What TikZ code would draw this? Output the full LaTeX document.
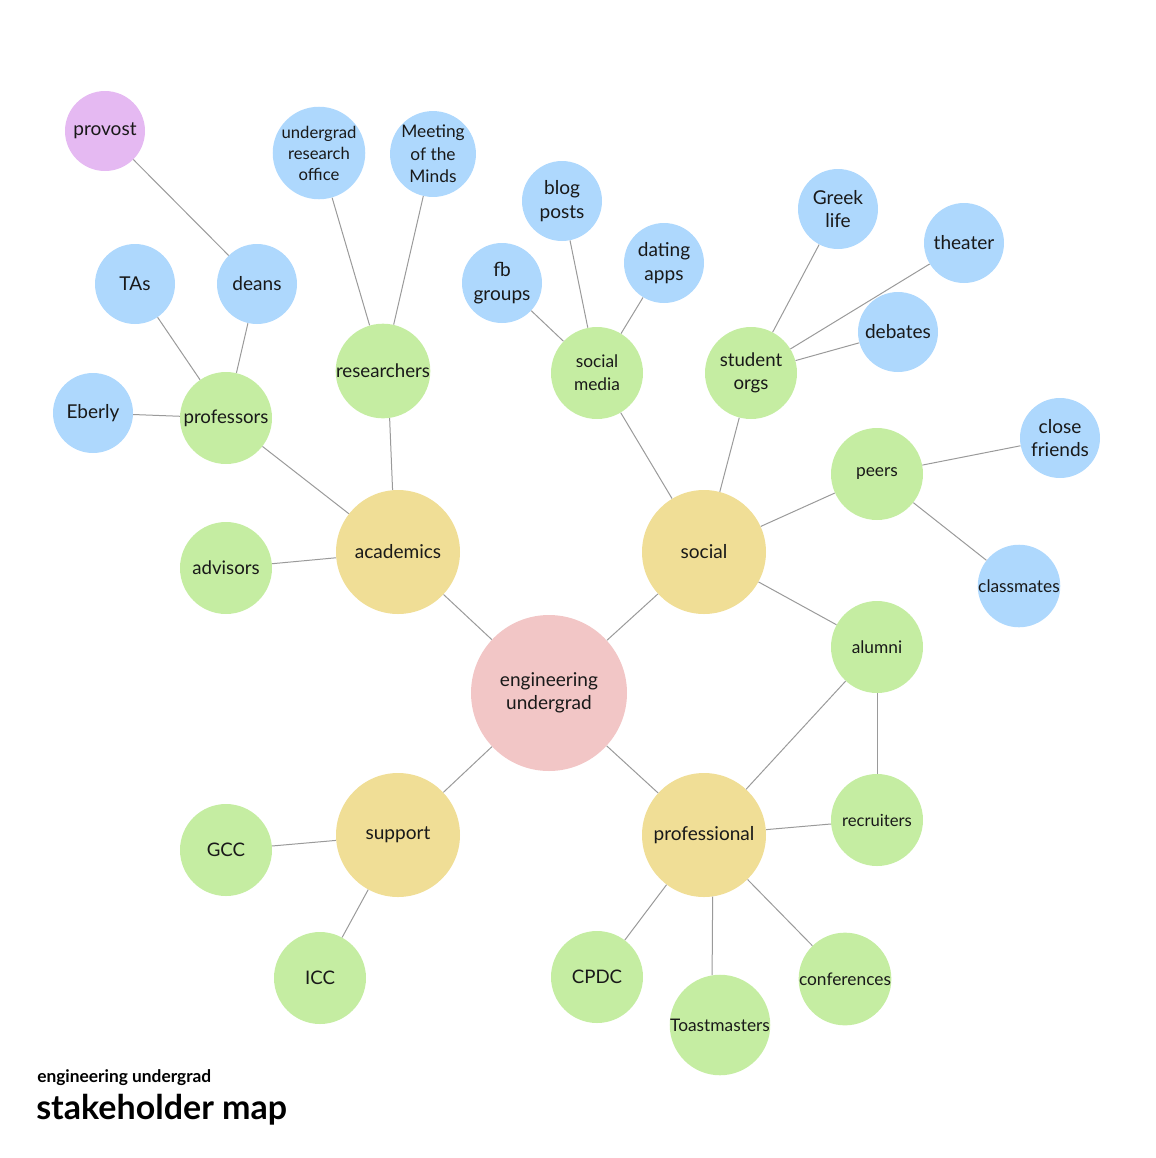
\documentclass[tikz,border=0pt]{standalone}
\usepackage{fontspec}
\setmainfont{Lato}
\definecolor{cyel}{HTML}{F0DE96}
\definecolor{cgrn}{HTML}{C5EDA2}
\definecolor{cblu}{HTML}{AED8FD}
\definecolor{cpnk}{HTML}{F2C6C6}
\definecolor{cpur}{HTML}{E5B9F2}
\definecolor{cline}{HTML}{9A9A9A}
\tikzset{
  bub/.style={circle,inner sep=0pt,align=center,text=black!90,font=\fontsize{14.3}{17.5}\selectfont},
  hub/.style={bub,fill=cpnk,minimum size=117pt},
  cat/.style={bub,fill=cyel,minimum size=93pt},
  grp/.style={bub,fill=cgrn,minimum size=69pt,font=\fontsize{14}{17}\selectfont},
  leaf/.style={bub,fill=cblu,minimum size=60pt},
  top/.style={bub,fill=cpur,minimum size=60pt},
  small/.style={font=\fontsize{13}{17}\selectfont},
  link/.style={draw=cline,line width=0.75pt},
}
\begin{document}
\begin{tikzpicture}[x=0.75pt,y=-0.75pt]
\useasboundingbox (0,0) rectangle (1156,1158);
% hub
\node[hub] (eu) at (549,693) {engineering\\undergrad};
% categories
\node[cat] (aca) at (398,552) {academics};
\node[cat] (soc) at (704,552) {social};
\node[cat] (sup) at (398,835) {support};
\node[cat] (pro) at (704,835) {professional};
% groups
\node[grp] (prof) at (226,418) {professors};
\node[grp] (res) at (383,371) {researchers};
\node[grp] (adv) at (226,568) {advisors};
\node[grp,small] (sm) at (597,373) {social\\media};
\node[grp] (so) at (751,373) {student\\orgs};
\node[grp,small] (peer) at (877,474) {peers};
\node[grp,small] (alu) at (877,647) {alumni};
\node[grp,font=\fontsize{12.5}{16}\selectfont] (rec) at (877,820) {recruiters};
\node[grp] (gcc) at (226,850) {GCC};
\node[grp] (icc) at (320,978) {ICC};
\node[grp] (cpdc) at (597,977) {CPDC};
\node[grp,small] (toast) at (720,1025) {Toastmasters};
\node[grp,small] (conf) at (845,979) {conferences};
% leaves
\node[top] (prov) at (105,131) {provost};
\node[leaf] (deans) at (257,284) {deans};
\node[leaf] (tas) at (135,284) {TAs};
\node[leaf] (eb) at (93,413) {Eberly};
\node[leaf,font=\fontsize{12.5}{15.75}\selectfont] (uro) at (319,153) {undergrad\\research\\office};
\node[leaf,font=\fontsize{13}{17}\selectfont] (mom) at (433,154) {Meeting\\of the\\Minds};
\node[leaf] (blog) at (562,201) {blog\\posts};
\node[leaf] (date) at (664,263) {dating\\apps};
\node[leaf] (fb) at (502,283) {fb\\groups};
\node[leaf] (greek) at (838,209) {Greek\\life};
\node[leaf] (thea) at (964,243) {theater};
\node[leaf] (deb) at (898,332) {debates};
\node[leaf] (cf) at (1060,438) {close\\friends};
\node[leaf,small] (cls) at (1019,586) {classmates};
% links
\draw[link] (prov) -- (deans);
\draw[link] (uro) -- (res);
\draw[link] (mom) -- (res);
\draw[link] (blog) -- (sm);
\draw[link] (date) -- (sm);
\draw[link] (fb) -- (sm);
\draw[link] (greek) -- (so);
\draw[link] (thea) -- (so);
\draw[link] (deb) -- (so);
\draw[link] (tas) -- (prof);
\draw[link] (deans) -- (prof);
\draw[link] (eb) -- (prof);
\draw[link] (prof) -- (aca);
\draw[link] (res.-82) -- (aca.95);
\draw[link] (adv) -- (aca);
\draw[link] (sm) -- (soc);
\draw[link] (so) -- (soc);
\draw[link] (peer) -- (soc);
\draw[link] (cf) -- (peer);
\draw[link] (cls) -- (peer);
\draw[link] (alu) -- (soc);
\draw[link] (aca) -- (eu);
\draw[link] (soc) -- (eu);
\draw[link] (sup) -- (eu);
\draw[link] (pro) -- (eu);
\draw[link] (gcc) -- (sup);
\draw[link] (icc) -- (sup);
\draw[link] (alu) -- (pro);
\draw[link] (alu) -- (rec);
\draw[link] (rec) -- (pro);
\draw[link] (cpdc) -- (pro);
\draw[link] (pro.-82) -- (toast.99);
\draw[link] (conf) -- (pro);
% title
\node[anchor=base west,inner sep=0pt,font=\fontsize{13}{15}\bfseries\selectfont] (sub) at (37,1082) {engineering undergrad};
\node[anchor=base west,inner sep=0pt,font=\fontsize{25.5}{30}\bfseries\selectfont] (ttl) at (36,1119) {stakeholder map};
\end{tikzpicture}
\end{document}
